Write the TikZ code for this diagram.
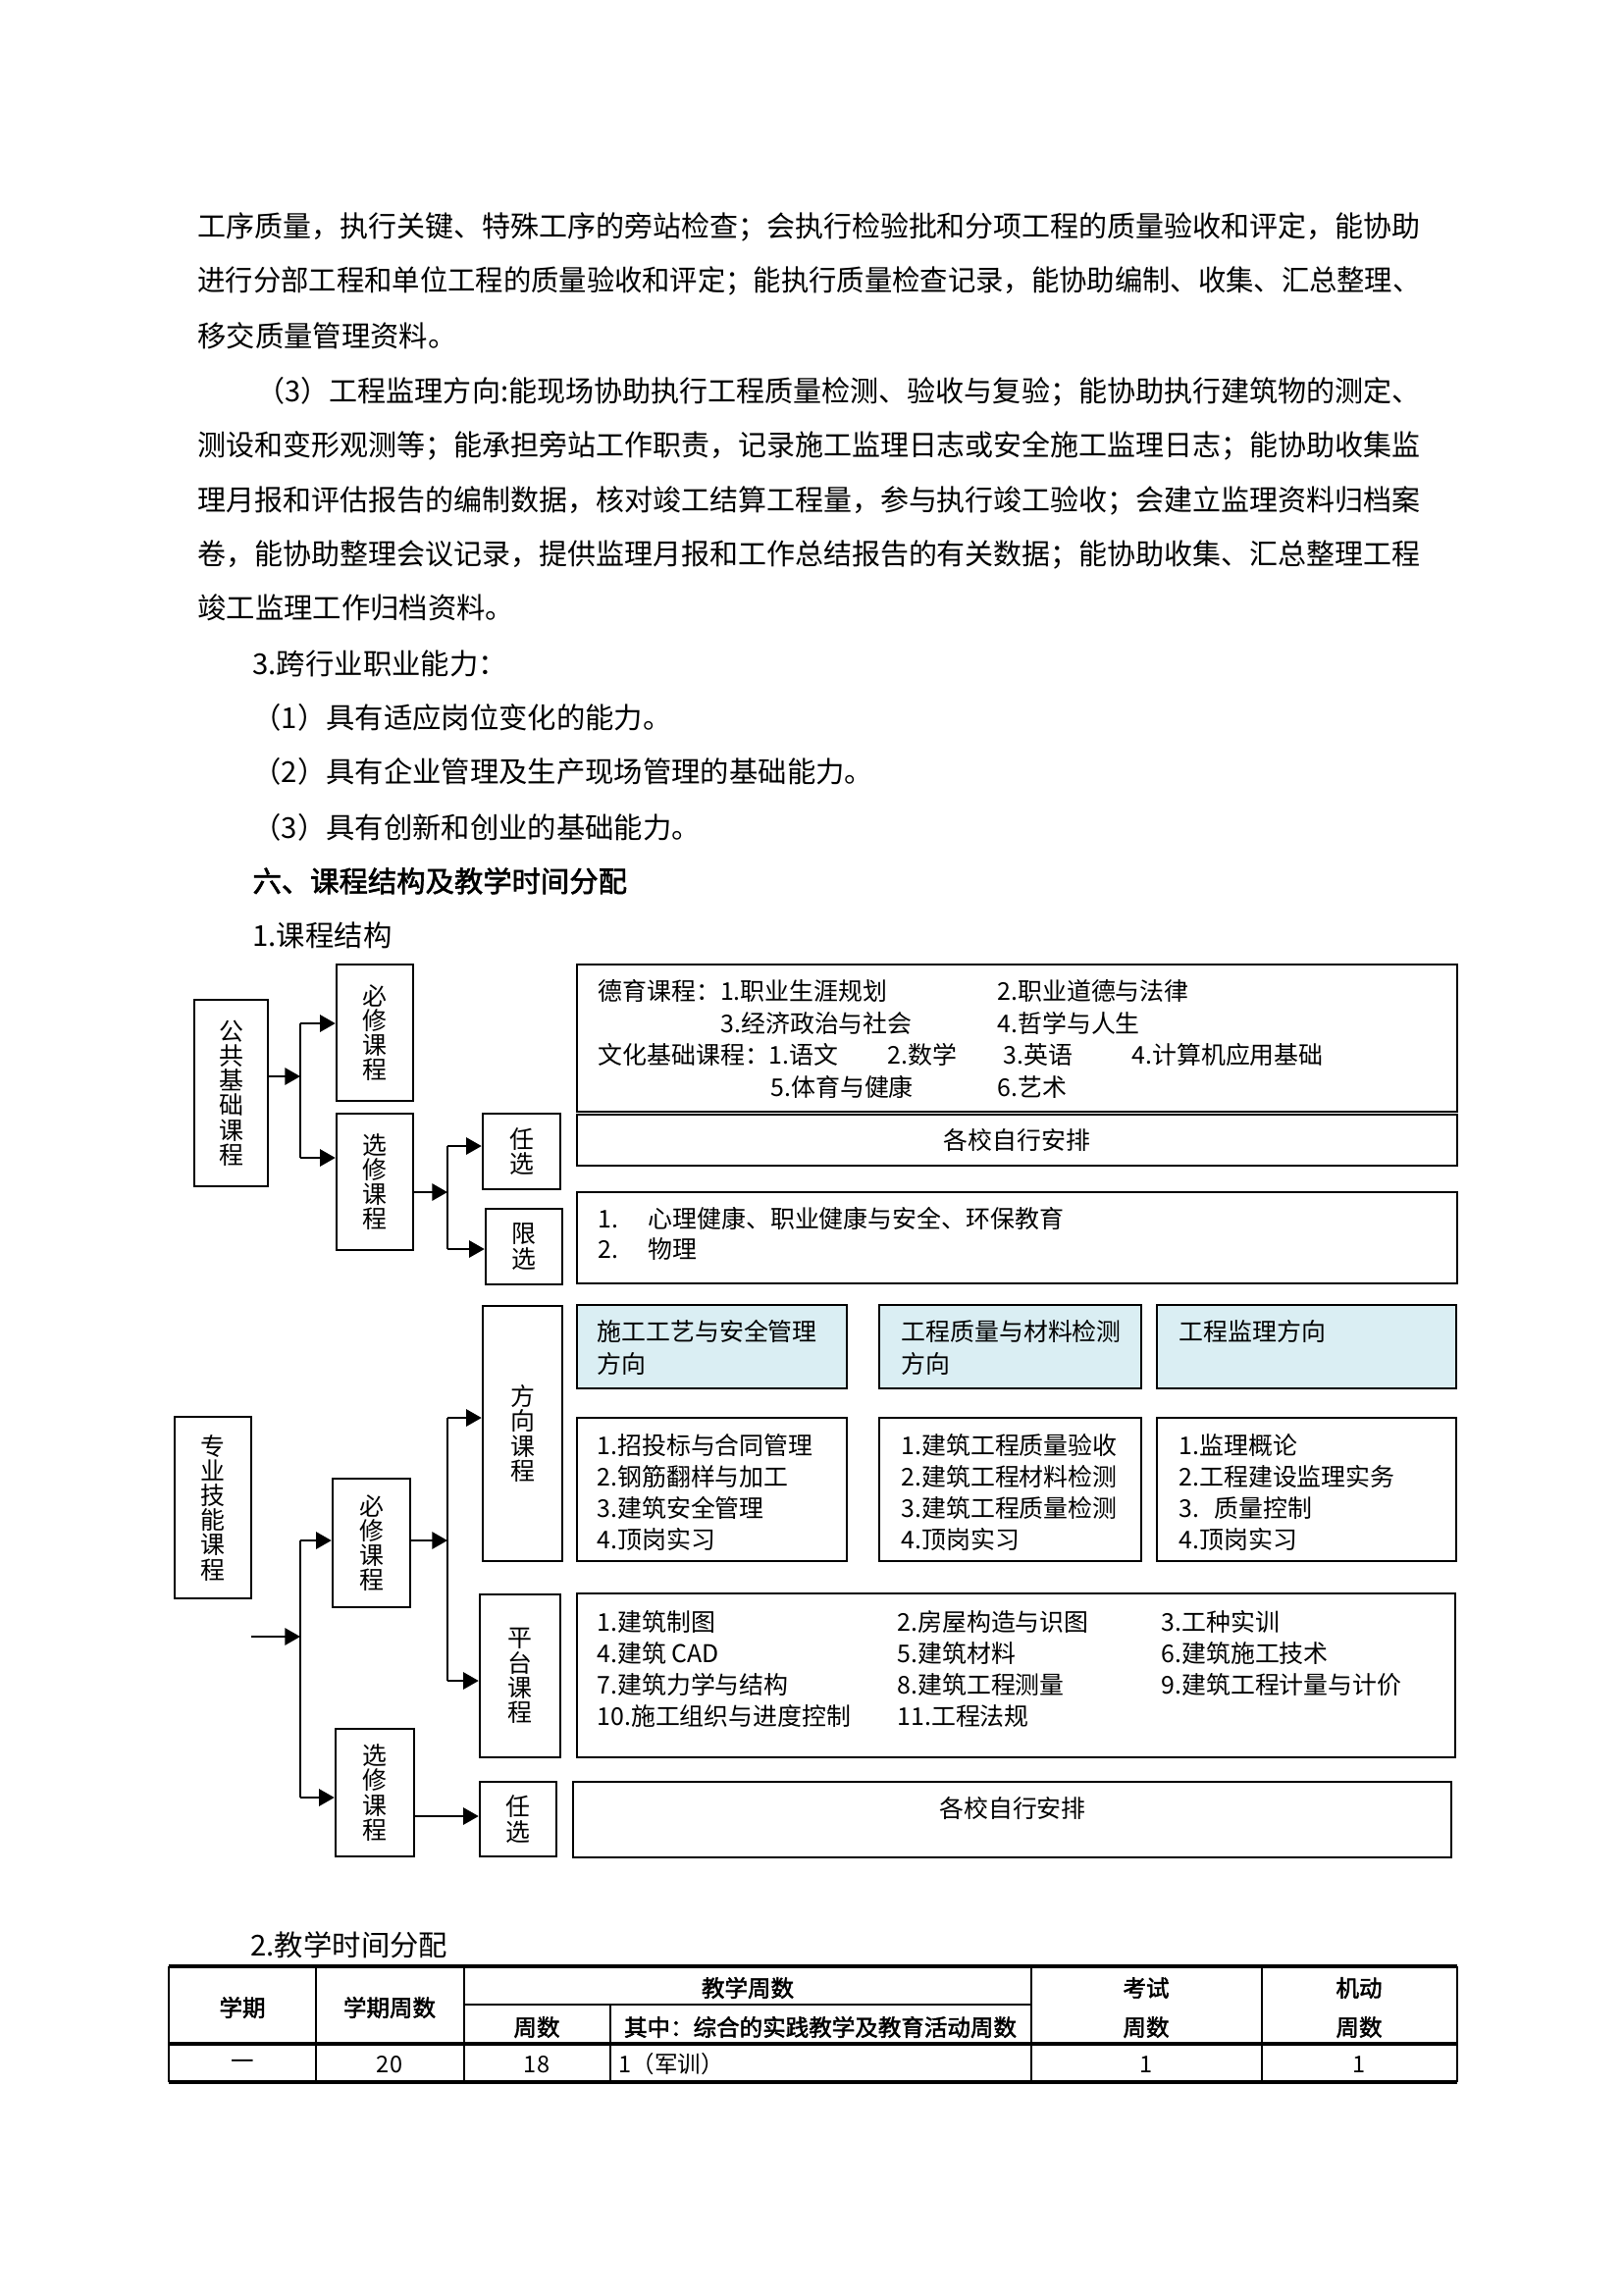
\documentclass[tikz,border=0pt]{standalone}
\usepackage{fontspec}
\usepackage{graphicx}
\setmainfont[AutoFakeBold=2]{Noto Sans CJK SC}
\usetikzlibrary{positioning,arrows.meta}
\definecolor{lblue}{HTML}{DAEEF3}
\newcommand{\pxu}{0.12697mm}
\newcommand{\bodyf}{\fontsize{10.6pt}{12pt}\selectfont}
\newcommand{\dgf}{\fontsize{9pt}{9.1pt}\selectfont}
\newcommand{\tbf}{\fontsize{8.5pt}{10pt}\selectfont}
\newcommand{\jl}[2]{\resizebox{#1}{\height}{#2}}

\begin{document}
\begin{tikzpicture}[x=0.12697mm,y=-0.12697mm,
  box/.style={draw,line width=0.9pt,inner sep=0pt,font=\dgf},
  vbox/.style={box,align=center},
  blu/.style={box,fill=lblue},
  tx/.style={anchor=base west,inner sep=0pt,font=\dgf},
  bl/.style={anchor=base west,inner sep=0pt,font=\bodyf},
  th/.style={inner sep=0pt,font=\tbf\bfseries},
  td/.style={inner sep=0pt,font=\tbf},
  ar/.style={line width=0.8pt,-{Triangle[length=2mm,width=2.2mm]}},
  ln/.style={line width=0.8pt},
  rl/.style={line width=1.2pt},
  gl/.style={line width=0.6pt}]
  \useasboundingbox (0,0) rectangle (1654,2339);

  % body text
  \node[bl] (p1) at (201,242) {\jl{158.2mm}{工序质量，执行关键、特殊工序的旁站检查；会执行检验批和分项工程的质量验收和评定，能协助}};
  \node[bl] (p2) at (201,297) {\jl{158.2mm}{进行分部工程和单位工程的质量验收和评定；能执行质量检查记录，能协助编制、收集、汇总整理、}};
  \node[bl] (p3) at (201,353) {移交质量管理资料。};
  \node[bl] (p4) at (261,409) {\jl{150.6mm}{（3）工程监理方向:能现场协助执行工程质量检测、验收与复验；能协助执行建筑物的测定、}};
  \node[bl] (p5) at (201,464) {\jl{158.2mm}{测设和变形观测等；能承担旁站工作职责，记录施工监理日志或安全施工监理日志；能协助收集监}};
  \node[bl] (p6) at (201,520) {\jl{158.2mm}{理月报和评估报告的编制数据，核对竣工结算工程量，参与执行竣工验收；会建立监理资料归档案}};
  \node[bl] (p7) at (201,575) {\jl{158.2mm}{卷，能协助整理会议记录，提供监理月报和工作总结报告的有关数据；能协助收集、汇总整理工程}};
  \node[bl] (p8) at (201,630) {竣工监理工作归档资料。};
  \node[bl] (p9) at (257,687) {3.跨行业职业能力：};
  \node[bl] (p10) at (257,742) {（1）具有适应岗位变化的能力。};
  \node[bl] (p11) at (257,797) {（2）具有企业管理及生产现场管理的基础能力。};
  \node[bl] (p12) at (257,854) {（3）具有创新和创业的基础能力。};
  \node[bl,font=\bodyf\bfseries] (p13) at (257,909) {六、课程结构及教学时间分配};
  \node[bl] (p14) at (257,964) {1.课程结构};

  % public courses
  \node[vbox,minimum width=75*\pxu,minimum height=190*\pxu] (ggjc) at (235.5,1114) {公\\共\\基\\础\\课\\程};
  \node[vbox,minimum width=78*\pxu,minimum height=139*\pxu] (bx1) at (382,1052.5) {必\\修\\课\\程};
  \node[vbox,minimum width=78*\pxu,minimum height=139*\pxu] (xx1) at (382,1204.5) {选\\修\\课\\程};
  \node[vbox,minimum width=79*\pxu,minimum height=77*\pxu] (rx1) at (531.5,1173.5) {任\\选};
  \node[vbox,minimum width=78*\pxu,minimum height=77*\pxu] (xz) at (534,1270.5) {限\\选};
  \node[box,minimum width=897*\pxu,minimum height=150*\pxu] (dy) at (1036.5,1058) {};
  \node[box,minimum width=897*\pxu,minimum height=52*\pxu] (ap1) at (1036.5,1162) {各校自行安排};
  \node[box,minimum width=897*\pxu,minimum height=93*\pxu] (xzc) at (1036.5,1261.5) {};

  \node[tx] (dy1) at (609,1019) {德育课程：1.职业生涯规划};
  \node[tx] (dy2) at (1016,1019) {2.职业道德与法律};
  \node[tx] (dy3) at (734,1052) {3.经济政治与社会};
  \node[tx] (dy4) at (1016,1052) {4.哲学与人生};
  \node[tx] (wh1) at (609,1084) {文化基础课程：1.语文};
  \node[tx] (wh2) at (904,1084) {2.数学};
  \node[tx] (wh3) at (1022,1084) {3.英语};
  \node[tx] (wh4) at (1153,1084) {4.计算机应用基础};
  \node[tx] (wh5) at (785,1117) {5.体育与健康};
  \node[tx] (wh6) at (1016,1117) {6.艺术};
  \node[tx] (xn1) at (609,1251) {1.};
  \node[tx] (xc1) at (660,1251) {心理健康、职业健康与安全、环保教育};
  \node[tx] (xn2) at (609,1282) {2.};
  \node[tx] (xc2) at (660,1282) {物理};

  \coordinate (t0) at (306,1097);
  \coordinate (t1) at (306,1043);
  \coordinate (t2) at (306,1180);
  \draw[ar] (t0 -| ggjc.east) -- (t0);
  \draw[ln] (t1) -- (t2);
  \draw[ar] (t1) -- (t1 -| bx1.west);
  \draw[ar] (t2) -- (t2 -| xx1.west);
  \coordinate (s0) at (456,1215);
  \coordinate (s1) at (456,1168);
  \coordinate (s2) at (456,1273);
  \draw[ar] (s0 -| xx1.east) -- (s0);
  \draw[ln] (s1) -- (s2);
  \draw[ar] (s1) -- (s1 -| rx1.west);
  \draw[ar] (s2) -- (s2 -| xz.west);

  % professional courses
  \node[vbox,minimum width=78*\pxu,minimum height=185*\pxu] (zyjn) at (217,1536.5) {专\\业\\技\\能\\课\\程};
  \node[vbox,minimum width=79*\pxu,minimum height=131*\pxu] (bx2) at (378.5,1572.5) {必\\修\\课\\程};
  \node[vbox,minimum width=80*\pxu,minimum height=130*\pxu] (xx2) at (382,1827) {选\\修\\课\\程};
  \node[vbox,minimum width=81*\pxu,minimum height=260*\pxu] (fx) at (532.5,1461) {方\\向\\课\\程};
  \node[vbox,minimum width=82*\pxu,minimum height=166*\pxu] (pt) at (530,1708) {平\\台\\课\\程};
  \node[vbox,minimum width=78*\pxu,minimum height=76*\pxu] (rx2) at (528,1854) {任\\选};
  \node[blu,minimum width=275*\pxu,minimum height=85*\pxu] (fb1) at (725.5,1372.5) {};
  \node[blu,minimum width=267*\pxu,minimum height=85*\pxu] (fb2) at (1029.5,1372.5) {};
  \node[blu,minimum width=305*\pxu,minimum height=85*\pxu] (fb3) at (1331.5,1372.5) {};
  \node[box,minimum width=275*\pxu,minimum height=146*\pxu] (fw1) at (725.5,1518) {};
  \node[box,minimum width=267*\pxu,minimum height=146*\pxu] (fw2) at (1029.5,1518) {};
  \node[box,minimum width=305*\pxu,minimum height=146*\pxu] (fw3) at (1331.5,1518) {};
  \node[box,minimum width=895*\pxu,minimum height=167*\pxu] (ptc) at (1035.5,1707.5) {};
  \node[box,minimum width=895*\pxu,minimum height=77*\pxu] (ap2) at (1031.5,1854.5) {};
  \node[inner sep=0pt,font=\dgf] (ap2t) at (1032,1843) {各校自行安排};

  \node[tx] (fa1) at (608,1366) {施工工艺与安全管理};
  \node[tx] (fa2) at (608,1399) {方向};
  \node[tx] (fb1t) at (918,1366) {工程质量与材料检测};
  \node[tx] (fb2t) at (918,1399) {方向};
  \node[tx] (fc1) at (1201,1366) {工程监理方向};

  \node[tx] (sg1) at (608,1482) {1.招投标与合同管理};
  \node[tx] (sg2) at (608,1514) {2.钢筋翻样与加工};
  \node[tx] (sg3) at (608,1546) {3.建筑安全管理};
  \node[tx] (sg4) at (608,1578) {4.顶岗实习};
  \node[tx] (zl1) at (918,1482) {1.建筑工程质量验收};
  \node[tx] (zl2) at (918,1514) {2.建筑工程材料检测};
  \node[tx] (zl3) at (918,1546) {3.建筑工程质量检测};
  \node[tx] (zl4) at (918,1578) {4.顶岗实习};
  \node[tx] (jl1) at (1201,1482) {1.监理概论};
  \node[tx] (jl2) at (1201,1514) {2.工程建设监理实务};
  \node[tx] (jl3) at (1201,1546) {3.\hspace{0.6em}质量控制};
  \node[tx] (jl4) at (1201,1578) {4.顶岗实习};

  \node[tx] (pa1) at (608,1662) {1.建筑制图};
  \node[tx] (pa2) at (914,1662) {2.房屋构造与识图};
  \node[tx] (pa3) at (1183,1662) {3.工种实训};
  \node[tx] (pa4) at (608,1694) {4.建筑 CAD};
  \node[tx] (pa5) at (914,1694) {5.建筑材料};
  \node[tx] (pa6) at (1183,1694) {6.建筑施工技术};
  \node[tx] (pa7) at (608,1726) {7.建筑力学与结构};
  \node[tx] (pa8) at (914,1726) {8.建筑工程测量};
  \node[tx] (pa9) at (1183,1726) {9.建筑工程计量与计价};
  \node[tx] (pa10) at (608,1758) {10.施工组织与进度控制};
  \node[tx] (pa11) at (914,1758) {11.工程法规};

  \coordinate (m0s) at (256,1668);
  \coordinate (m0) at (306,1668);
  \coordinate (m1) at (306,1570);
  \coordinate (m2) at (306,1832);
  \draw[ar] (m0s) -- (m0);
  \draw[ln] (m1) -- (m2);
  \draw[ar] (m1) -- (m1 -| bx2.west);
  \draw[ar] (m2) -- (m2 -| xx2.west);
  \coordinate (n0) at (456,1570);
  \coordinate (n1) at (456,1445);
  \coordinate (n2) at (456,1713);
  \draw[ar] (n0 -| bx2.east) -- (n0);
  \draw[ln] (n1) -- (n2);
  \draw[ar] (n1) -- (n1 -| fx.west);
  \draw[ar] (n2) -- (n2 -| pt.west);
  \coordinate (r0) at (422,1851);
  \draw[ar] (r0 -| xx2.east) -- (r0 -| rx2.west);

  % time table
  \node[bl] (tt) at (255,1993) {2.教学时间分配};
  \draw[rl] (172,2004) -- (1485,2004);
  \draw[rl] (172,2083) -- (1485,2083);
  \draw[rl] (172,2122) -- (1485,2122);
  \draw[gl] (473,2043) -- (1051,2043);
  \draw[gl] (172,2004) -- (172,2122);
  \draw[gl] (322,2004) -- (322,2122);
  \draw[gl] (473,2004) -- (473,2122);
  \draw[gl] (622,2043) -- (622,2122);
  \draw[gl] (1051,2004) -- (1051,2122);
  \draw[gl] (1286,2004) -- (1286,2122);
  \draw[gl] (1485,2004) -- (1485,2122);
  \node[th] (h1) at (247,2046) {学期};
  \node[th] (h2) at (397,2046) {学期周数};
  \node[th] (h3) at (762,2026) {教学周数};
  \node[th] (h4) at (547,2066) {周数};
  \node[th] (h5) at (836,2066) {其中：综合的实践教学及教育活动周数};
  \node[th] (h6) at (1168,2026) {考试};
  \node[th] (h7) at (1168,2066) {周数};
  \node[th] (h8) at (1385,2026) {机动};
  \node[th] (h9) at (1385,2066) {周数};
  \node[td] (d1) at (247,2104) {一};
  \node[td] (d2) at (397,2104) {20};
  \node[td] (d3) at (547,2104) {18};
  \node[td,anchor=west] (d4) at (630,2104) {1（军训）};
  \node[td] (d5) at (1168,2104) {1};
  \node[td] (d6) at (1385,2104) {1};
\end{tikzpicture}
\end{document}
